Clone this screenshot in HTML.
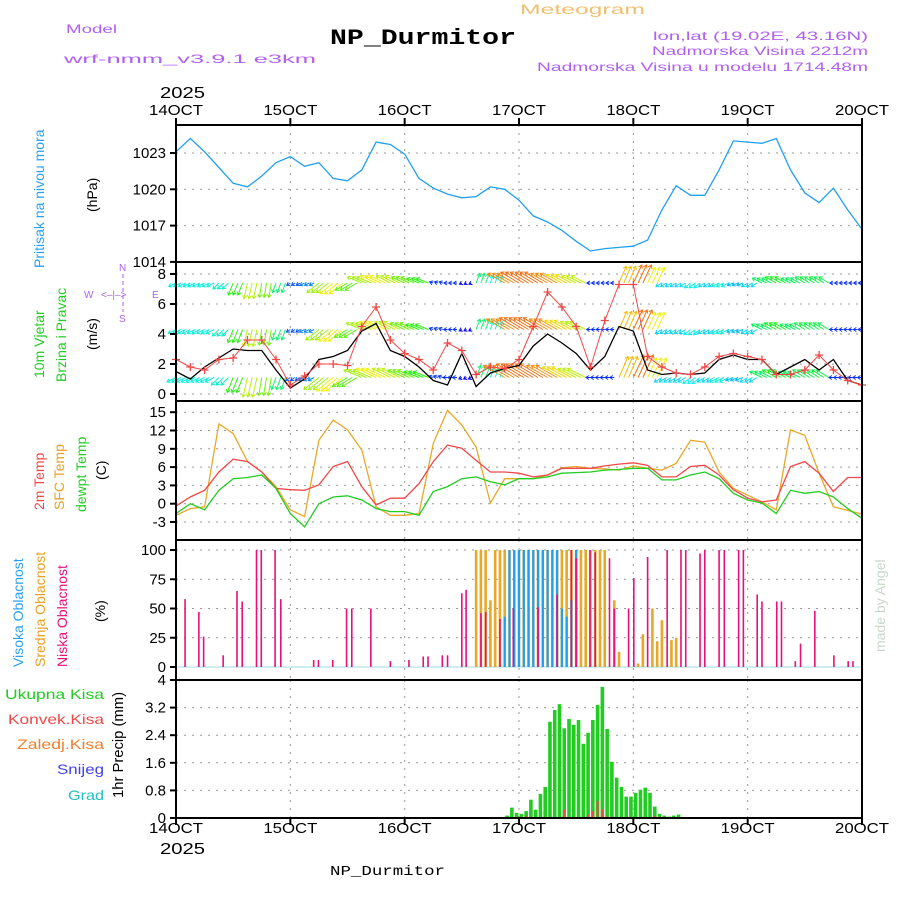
<!DOCTYPE html>
<html><head><meta charset="utf-8"><style>
body{margin:0;background:#fff;}
svg{display:block;font-family:"Liberation Sans",sans-serif;}
</style></head><body>
<svg id="chart" width="900" height="900" viewBox="0 0 900 900" xmlns="http://www.w3.org/2000/svg">
<rect width="900" height="900" fill="#fff"/>
<g id="header" font-size="12">
<text x="66" y="33" fill="#b060f0" textLength="51" lengthAdjust="spacingAndGlyphs">Model</text>
<text x="64" y="63" fill="#b060f0" textLength="252" lengthAdjust="spacingAndGlyphs">wrf-nmm_v3.9.1 e3km</text>
<text x="520" y="14" fill="#f0c070" font-size="14" textLength="125" lengthAdjust="spacingAndGlyphs">Meteogram</text>
<text x="330" y="44" fill="#000" font-size="22" font-weight="bold" font-family="Liberation Mono,monospace" textLength="186" lengthAdjust="spacingAndGlyphs">NP_Durmitor</text>
<text x="653" y="40" fill="#b060f0" textLength="215" lengthAdjust="spacingAndGlyphs">lon,lat (19.02E, 43.16N)</text>
<text x="652" y="55" fill="#b060f0" textLength="216" lengthAdjust="spacingAndGlyphs">Nadmorska Visina 2212m</text>
<text x="537" y="71" fill="#b060f0" textLength="331" lengthAdjust="spacingAndGlyphs">Nadmorska Visina u modelu 1714.48m</text>
<text x="160" y="98" font-size="16" textLength="45" lengthAdjust="spacingAndGlyphs">2025</text>
<text x="160" y="854" font-size="16" textLength="45" lengthAdjust="spacingAndGlyphs">2025</text>
<text x="330" y="875" font-family="Liberation Mono,monospace" font-size="14" textLength="115" lengthAdjust="spacingAndGlyphs">NP_Durmitor</text>
<text transform="translate(885,652) rotate(-90)" fill="#c8d8c8" font-size="14">made by Angel</text>
</g>
<g id="leftlabels" font-size="14">
<text transform="translate(44,268) rotate(-90)" fill="#2aa0f0">Pritisak na nivou mora</text>
<text transform="translate(97,212) rotate(-90)" fill="#000">(hPa)</text>
<text transform="translate(44,378) rotate(-90)" fill="#22cc22">10m Vjetar</text>
<text transform="translate(66,382) rotate(-90)" fill="#22cc22">Brzina i Pravac</text>
<text transform="translate(97,350) rotate(-90)" fill="#000">(m/s)</text>
<g fill="#b060f0" font-size="10">
<text x="119" y="271">N</text><text x="119" y="322">S</text><text x="84" y="298">W</text><text x="152" y="298">E</text>
<text x="101" y="298">&lt;–|–&gt;</text>
<line x1="123" y1="274" x2="123" y2="312" stroke="#b060f0" stroke-dasharray="4,3"/>
</g>
<text transform="translate(44,510) rotate(-90)" fill="#f04848">2m Temp</text>
<text transform="translate(64,510) rotate(-90)" fill="#e8a020">SFC Temp</text>
<text transform="translate(86,512) rotate(-90)" fill="#22cc22">dewpt Temp</text>
<text transform="translate(106,480) rotate(-90)" fill="#000">(C)</text>
<text transform="translate(23,667) rotate(-90)" fill="#2aa0f0">Visoka Oblacnost</text>
<text transform="translate(45,667) rotate(-90)" fill="#e8a020">Srednja Oblacnost</text>
<text transform="translate(67,667) rotate(-90)" fill="#e8107a">Niska Oblacnost</text>
<text transform="translate(105,622) rotate(-90)" fill="#000">(%)</text>
<text x="5" y="699" fill="#22cc22" textLength="99" lengthAdjust="spacingAndGlyphs">Ukupna Kisa</text>
<text x="8" y="724" fill="#f04848" textLength="96" lengthAdjust="spacingAndGlyphs">Konvek.Kisa</text>
<text x="17" y="749" fill="#f08030" textLength="87" lengthAdjust="spacingAndGlyphs">Zaledj.Kisa</text>
<text x="57" y="774" fill="#4040f0" textLength="47" lengthAdjust="spacingAndGlyphs">Snijeg</text>
<text x="68" y="800" fill="#20c0c0" textLength="36" lengthAdjust="spacingAndGlyphs">Grad</text>
<text transform="translate(123,798) rotate(-90)" fill="#000" font-size="15" textLength="106" lengthAdjust="spacingAndGlyphs">1hr Precip (mm)</text>
</g>
<g id="grid"></g>
<g id="marks"></g>
<g id="frames"></g>
</svg>
<script>
const dayLabels=["14OCT","15OCT","16OCT","17OCT","18OCT","19OCT","20OCT"];
const pressure=[1023.1,1024.2,1023.1,1021.8,1020.5,1020.2,1021.1,1022.2,1022.7,1021.9,1022.2,1020.9,1020.7,1021.6,1023.9,1023.7,1022.9,1020.9,1020.1,1019.6,1019.3,1019.4,1020.2,1020.0,1019.1,1017.8,1017.3,1016.6,1015.7,1014.9,1015.1,1015.2,1015.3,1015.8,1018.3,1020.3,1019.5,1019.5,1021.6,1024.0,1023.9,1023.8,1024.2,1021.6,1019.7,1018.9,1020.1,1018.3,1016.7];
const pressureTicks=[1023,1020,1017,1014];
const windSpeed=[1.5,1.0,1.8,2.4,3.0,2.9,2.9,1.6,0.4,1.0,2.3,2.5,2.9,4.2,4.7,2.9,2.5,1.8,0.9,0.6,2.7,0.5,1.4,1.7,1.9,3.2,4.0,3.4,2.7,1.6,2.5,4.5,4.2,1.6,1.3,1.4,1.3,1.4,2.3,2.6,2.3,2.3,1.3,1.8,2.3,1.6,2.3,0.9,0.6];
const windGust=[2.3,1.8,1.6,2.3,2.4,3.6,3.6,2.3,0.6,1.2,2.0,2.0,1.9,4.5,5.8,3.6,2.7,2.3,1.6,3.4,2.9,1.3,1.8,1.7,2.3,4.5,6.8,5.8,4.5,1.8,4.9,7.3,7.3,2.5,1.8,1.4,1.3,1.8,2.5,2.7,2.5,2.3,1.3,1.3,1.6,2.6,1.6,0.9,0.6];
const windU=[-6,-6,-6,-5,-4,-3,-2,-3,-3,-4,-10,-11,-10,-12,-13,-12,-11,-10,-3,-3,-2,3,2,-14,-15,-15,-14,-13,-12,-3,-3,6,7,6,-5,-5,-5,-5,-6,-5,-5,-8,-9,-8,-8,-8,-3,-3,-3];
const windV=[-3,-3,-3,-5,-10,-13,-12,-8,-2,-2,-8,-9,-6,5,6,6,5,4,1,0,-1,8,6,8,9,9,8,7,6,0,0,14,15,13,-3,-3,-4,-3,-3,-2,-3,4,5,4,5,5,0,0,0];
const windLevels=[7.4,4.3,1.1];
const windTicks=[8,6,4,2,0];
const temp2m=[-0.4,1.1,2.2,5.2,7.3,6.9,5.2,2.5,2.3,2.2,3.1,6.1,6.9,2.8,-0.2,0.9,0.9,3.3,6.9,9.6,9.1,7.1,5.2,5.2,5.0,4.4,4.7,5.8,5.8,5.8,6.2,6.5,6.7,6.3,4.4,4.4,6.1,6.3,4.7,2.3,0.9,0.3,0.6,6.1,6.9,5.0,2.0,4.3,4.3];
const tempSfc=[-1.9,-0.8,-0.5,13.1,11.5,6.9,5.2,2.8,-1.0,-2.1,10.4,13.7,12.1,8.8,-0.5,-1.9,-1.9,-1.6,9.9,15.3,12.9,9.3,0.1,4.1,4.1,4.1,4.7,5.9,6.1,5.8,5.7,5.5,6.2,5.8,5.5,6.6,10.4,10.1,5.2,2.5,1.4,0.3,-1.0,12.1,11.2,5.0,-0.5,-1.1,-1.7];
const tempDew=[-1.6,0,-1.0,2.2,4.1,4.3,4.7,2.5,-1.6,-3.8,0,1.1,1.3,0.6,-0.8,-1.3,-1.3,-1.9,2.0,2.8,4.1,4.4,3.6,3.1,4.1,4.1,4.4,5.0,5.1,5.2,5.5,5.6,5.8,5.8,3.9,3.9,4.7,5.2,4.1,1.7,0.6,0.1,-1.6,2.2,1.7,2.0,1.1,-0.8,-2.4];
const tempTicks=[15,12,9,6,3,0,-3];
const lowHours=[1.9,4.8,5.8,9.9,12.8,13.9,16.9,17.9,20.8,22.0,28.9,29.9,32.9,35.8,36.9,40.9,45.0,48.9,51.9,52.9,55.9,57.0,60.0,60.9,64.0,65.0,68.0,70.8,76.0,80.0,83.0,84.0,86.9,88.0,91.0,92.0,95.0,96.1,99.0,103.1,106.0,107.0,110.0,111.0,114.0,115.1,118.1,119.1,122.0,123.0,126.1,127.1,130.0,131.1,134.1,138.1,141.1,142.1];
const lowCloud=[58,47,26,10,65,56,100,100,100,58,6,6,6,50,50,50,5,6,9,9,10,10,63,66,46,47,41,50,51,62,100,93,100,98,93,50,50,76,94,100,100,100,97,100,100,100,100,100,62,56,56,56,5,20,48,10,5,5];
const midHours=[63,64,65,66,67,68,69,70,71,72,73,74,75,76,77,78,79,80,81,82,83,84,85,86,87,88,89,90,92,93,97,98,100,101,102,104,105];
const midCloud=[100,100,100,57,100,100,100,100,100,100,100,100,100,100,100,100,100,100,100,100,100,100,100,100,100,100,100,100,57,13,3,28,50,22,40,23,25];
const highHours=[69,70,71,72,73,74,75,76,77,78,79,80,81,82,83,84];
const highCloud=[43,100,100,100,100,100,100,100,100,100,100,100,50,43,57,100];
const cloudTicks=[100,75,50,25,0];
const precipHours=[69.5,70.5,71.5,72.5,73.5,74.5,75.5,76.5,77.5,78.5,79.5,80.5,81.5,82.5,83.5,84.5,85.5,86.5,87.5,88.5,89.5,90.5,91.5,92.5,93.5,94.5,95.5,96.5,97.5,98.5,99.5,100.5,101.5,102.5,103.5,104.5,105.5];
const precipTotal=[0.07,0.3,0.15,0.12,0.2,0.53,0.24,0.7,0.9,2.79,3.13,3.3,2.6,2.87,2.7,2.84,2.15,2.47,2.84,3.28,3.8,2.58,1.63,1.17,0.9,0.62,0.62,0.73,0.82,0.88,0.73,0.33,0.12,0.07,0.04,0.07,0.1];
const precipConv=[0,0,0,0.04,0.05,0,0,0,0,0,0,0.02,0.25,0.02,0,0,0.02,0.1,0.2,0.5,0.25,0.06,0,0,0,0,0,0,0,0,0,0.05,0.05,0,0,0,0];
const precipTicks=[4,3.2,2.4,1.6,0.8,0];

const NS="http://www.w3.org/2000/svg";
const X=h=>176+h*686/144;
const yP=v=>153+(1023-v)*12.1;
const yW=v=>394-v*15;
const yT=v=>503.7-v*6.1;
const yC=v=>667-v*1.17;
const yR=v=>818-v*34.5;
const panels=[[125,262],[262,401],[401,540],[540,680],[680,818]];
function mk(tag,attrs,parent){const e=document.createElementNS(NS,tag);for(const k in attrs)e.setAttribute(k,attrs[k]);parent.appendChild(e);return e;}
const grid=document.getElementById('grid'),marks=document.getElementById('marks'),frames=document.getElementById('frames');
for(let d=1;d<6;d++){const x=X(d*24);panels.forEach(p=>{const l=mk('line',{x1:x,x2:x,y1:p[0],y2:p[1],stroke:'#999','stroke-dasharray':'2,6'},grid);

});}
dayLabels.forEach((t,i)=>{const x=X(i*24);
[115,833].forEach(y=>{const e=mk('text',{x:x-27,y:y,'font-size':15,textLength:54,lengthAdjust:'spacingAndGlyphs'},grid);e.textContent=t;

});
mk('line',{x1:x,x2:x,y1:118,y2:125,stroke:'#000','stroke-width':2},frames);
mk('line',{x1:x,x2:x,y1:818,y2:825,stroke:'#000','stroke-width':2},frames);});
function yTicks(ticks,fy,lab,fmt){ticks.forEach(v=>{const y=fy(v);
mk('line',{x1:176,x2:862,y1:y,y2:y,stroke:'#999','stroke-dasharray':'2,6'},grid);
mk('line',{x1:170,x2:176,y1:y,y2:y,stroke:'#000','stroke-width':2},frames);
const e=mk('text',{x:166,y:y+5,'text-anchor':'end','font-size':15},frames);e.textContent=fmt?fmt(v):v;

});}
yTicks(pressureTicks,yP,'pressure-tick');
yTicks(windTicks,yW,'wind-tick');
yTicks(tempTicks,yT,'temp-tick');
yTicks(cloudTicks,yC,'cloud-tick');
yTicks(precipTicks,yR,'precip-tick',v=>v===0||v===4?String(v):v.toFixed(1));
panels.forEach(p=>{const r=mk('rect',{x:176,y:p[0],width:686,height:p[1]-p[0],fill:'none',stroke:'#000','stroke-width':2},frames);

});
function line(arr,fy,color,name,w){const pts=arr.map((v,i)=>X(i*3).toFixed(1)+','+fy(v).toFixed(1)).join(' ');
const e=mk('polyline',{points:pts,fill:'none',stroke:color,'stroke-width':w||1.3},marks);

}
line(pressure,yP,'#22a0f0','pressure-line');
function bars(hours,vals,color,w,name){hours.forEach((h,i)=>{const b=mk('rect',{x:X(h)-w/2,y:yC(vals[i]),width:w,height:667-yC(vals[i]),fill:color},marks);

});}
mk('line',{x1:176,x2:862,y1:667,y2:667,stroke:'#bde8e8','stroke-width':1.5},marks);
bars(midHours,midCloud,'#e8a828',2.6,'mid-cloud-bar');
bars(highHours,highCloud,'#22a0f0',2.2,'high-cloud-bar');
bars(lowHours,lowCloud,'#e8107a',1.6,'low-cloud-bar');
precipHours.forEach((h,i)=>{const b=mk('rect',{x:X(h)-1.8,y:yR(precipTotal[i]),width:3.6,height:818-yR(precipTotal[i]),fill:'#22cc22'},marks);


if(precipConv[i]>0){const c=mk('rect',{x:X(h)-1,y:yR(precipConv[i]),width:2,height:818-yR(precipConv[i]),fill:'#f04848'},marks);

}});
line(tempSfc,yT,'#e8a828','sfc-temp-line');
line(temp2m,yT,'#f04848','temp-2m-line');
line(tempDew,yT,'#22cc22','dewpoint-line');
const scales=[1.2,1.3,1.5];
windLevels.forEach((lv,li)=>{const by=yW(lv);windU.forEach((u,i)=>{[0,1,2].forEach(off=>{
if(i===windU.length-1&&off>0)return;
const x0=X(i*3+off),dx=u*scales[li],dy=-windV[i]*scales[li];const m=Math.hypot(windU[i],windV[i]);
const hue=Math.max(25,275-m*15);const col='hsl('+hue+',90%,50%)';
const x1=x0+dx,y1=by+dy,L=Math.hypot(dx,dy)||1,ux=dx/L,uy=dy/L;
const g=mk('path',{d:`M${x0},${by}L${x1},${y1}M${x1-3*ux+2*uy},${y1-3*uy-2*ux}L${x1},${y1}L${x1-3*ux-2*uy},${y1-3*uy+2*ux}`,stroke:col,fill:'none','stroke-width':1},marks);

});});});
line(windSpeed,yW,'#000','wind-speed-line');
line(windGust,yW,'#f04848','wind-gust-line',1);
windGust.forEach((v,i)=>{const x=X(i*3),y=yW(v);const p=mk('path',{d:`M${x-4},${y}H${x+4}M${x},${y-4}V${y+4}`,stroke:'#f04848','stroke-width':1.3},marks);

});
</script>
</body></html>
